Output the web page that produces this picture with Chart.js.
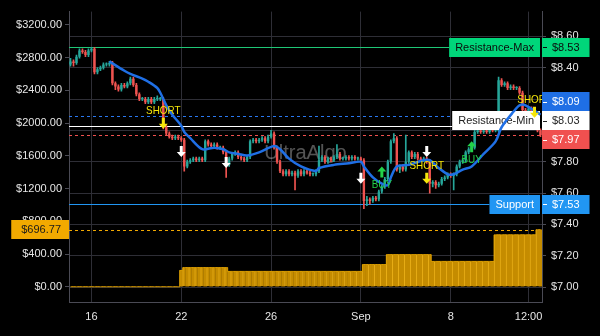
<!DOCTYPE html>
<html>
<head>
<meta charset="utf-8">
<title>UltraAlgo price chart</title>
<script src="https://cdn.jsdelivr.net/npm/chart.js@4.4.1/dist/chart.umd.min.js"></script>
<style>
  html, body { margin: 0; padding: 0; background: #000; }
  #wrap { width: 600px; height: 336px; }
</style>
</head>
<body>
<div id="wrap"><canvas id="priceChart" width="600" height="336"></canvas></div>
<script>
// ---- Data ----
const xTickIdx = [7, 37, 67, 97, 127, 153];
const xTickLabels = ['16', '22', '26', 'Sep', '8', '12:00'];
const leftTicks = [0, 400, 800, 1200, 1600, 2000, 2400, 2800, 3200];
const rightTicks = [7.0, 7.2, 7.4, 7.6, 7.8, 8.0, 8.2, 8.4, 8.6];

const opens = [
  8.42,8.44,8.43,8.47,8.51,8.50,8.48,8.51,8.52,8.37,
  8.39,8.40,8.42,8.42,8.43,8.30,8.28,8.26,8.29,8.28,
  8.30,8.33,8.29,8.23,8.20,8.20,8.18,8.20,8.18,8.20,
  8.20,8.20,8.02,7.98,7.96,7.95,7.96,7.95,7.94,7.77,
  7.80,7.81,7.82,7.81,7.82,7.81,7.93,7.91,7.90,7.91,
  7.89,7.89,7.86,7.78,7.82,7.85,7.86,7.83,7.82,7.81,
  7.83,7.93,7.94,7.93,7.94,7.95,7.93,7.96,7.98,7.89,
  7.80,7.74,7.72,7.74,7.72,7.73,7.71,7.74,7.72,7.74,
  7.73,7.72,7.72,7.74,7.81,7.83,7.80,7.82,7.81,7.83,
  7.85,7.82,7.82,7.83,7.82,7.83,7.82,7.82,7.81,7.55,
  7.56,7.55,7.57,7.56,7.61,7.64,7.69,7.80,7.93,7.95,
  7.75,7.77,7.75,7.80,7.86,7.83,7.85,7.82,7.81,7.82,
  7.80,7.66,7.67,7.65,7.66,7.69,7.70,7.72,7.71,7.72,
  7.77,7.80,7.81,7.86,7.88,7.89,7.99,8.00,7.99,8.00,
  7.99,8.01,8.00,8.00,8.32,8.29,8.30,8.27,8.28,8.27,
  8.27,8.24,8.13,8.11,8.14,8.10,8.08,8.00
];
const closes = [
  8.44,8.43,8.47,8.51,8.50,8.48,8.51,8.52,8.37,8.39,
  8.40,8.42,8.42,8.43,8.30,8.28,8.26,8.29,8.28,8.30,
  8.33,8.29,8.23,8.20,8.20,8.18,8.20,8.18,8.20,8.20,
  8.20,8.02,7.98,7.96,7.95,7.96,7.95,7.94,7.77,7.80,
  7.81,7.82,7.81,7.82,7.81,7.93,7.91,7.90,7.91,7.89,
  7.89,7.86,7.78,7.82,7.85,7.86,7.83,7.82,7.81,7.83,
  7.93,7.94,7.93,7.94,7.95,7.93,7.96,7.98,7.89,7.80,
  7.74,7.72,7.74,7.72,7.73,7.71,7.74,7.72,7.74,7.73,
  7.72,7.72,7.74,7.81,7.83,7.80,7.82,7.81,7.83,7.85,
  7.82,7.82,7.83,7.82,7.83,7.82,7.82,7.81,7.55,7.56,
  7.55,7.57,7.56,7.61,7.64,7.69,7.80,7.93,7.95,7.75,
  7.77,7.75,7.80,7.86,7.83,7.85,7.82,7.81,7.82,7.80,
  7.66,7.67,7.65,7.66,7.69,7.70,7.72,7.71,7.72,7.77,
  7.80,7.81,7.86,7.88,7.89,7.99,8.00,7.99,8.00,7.99,
  8.01,8.00,8.00,8.32,8.29,8.30,8.27,8.28,8.27,8.27,
  8.24,8.13,8.11,8.14,8.10,8.08,8.00,7.97
];
const highs = [
  8.46,8.45,8.48,8.52,8.52,8.51,8.52,8.53,8.53,8.40,
  8.41,8.43,8.43,8.44,8.44,8.31,8.29,8.30,8.30,8.31,
  8.34,8.34,8.30,8.24,8.21,8.21,8.21,8.21,8.21,8.22,
  8.21,8.21,8.03,7.99,7.97,7.97,7.97,7.96,7.95,7.81,
  7.82,7.83,7.83,7.83,7.83,7.94,7.94,7.92,7.92,7.92,
  7.90,7.90,7.87,7.83,7.86,7.87,7.87,7.84,7.83,7.84,
  7.94,7.95,7.95,7.95,7.96,7.96,7.97,8.00,7.99,7.90,
  7.81,7.75,7.75,7.75,7.74,7.74,7.75,7.75,7.75,7.75,
  7.74,7.73,7.75,7.90,7.84,7.84,7.83,7.83,7.84,7.91,
  7.86,7.83,7.84,7.84,7.84,7.84,7.83,7.83,7.82,7.58,
  7.57,7.58,7.58,7.62,7.65,7.70,7.81,7.94,7.98,7.96,
  7.78,7.78,7.97,7.87,7.87,7.86,7.86,7.83,7.83,7.83,
  7.81,7.68,7.68,7.67,7.70,7.71,7.73,7.73,7.73,7.78,
  7.81,7.82,7.87,7.89,7.90,8.01,8.01,8.01,8.01,8.01,
  8.02,8.02,8.01,8.34,8.33,8.31,8.31,8.29,8.29,8.28,
  8.28,8.25,8.14,8.15,8.15,8.11,8.09,8.01
];
const lows = [
  8.41,8.41,8.42,8.46,8.49,8.47,8.47,8.50,8.36,8.36,
  8.38,8.39,8.41,8.41,8.29,8.26,8.25,8.25,8.27,8.27,
  8.29,8.28,8.22,8.19,8.19,8.17,8.17,8.17,8.17,8.19,
  8.19,8.01,7.97,7.95,7.94,7.94,7.94,7.93,7.74,7.76,
  7.79,7.80,7.80,7.80,7.80,7.80,7.90,7.89,7.89,7.88,
  7.88,7.85,7.70,7.77,7.81,7.84,7.82,7.81,7.80,7.80,
  7.82,7.92,7.92,7.92,7.93,7.92,7.92,7.95,7.88,7.79,
  7.73,7.71,7.71,7.71,7.71,7.62,7.70,7.71,7.71,7.72,
  7.71,7.71,7.71,7.73,7.80,7.79,7.79,7.80,7.80,7.82,
  7.81,7.81,7.81,7.81,7.81,7.81,7.81,7.80,7.50,7.52,
  7.53,7.54,7.55,7.55,7.60,7.63,7.68,7.79,7.92,7.74,
  7.73,7.74,7.74,7.79,7.82,7.82,7.81,7.80,7.80,7.79,
  7.60,7.64,7.63,7.64,7.65,7.68,7.69,7.70,7.62,7.71,
  7.76,7.79,7.80,7.85,7.87,7.88,7.98,7.98,7.98,7.98,
  7.98,7.99,7.99,7.99,8.28,8.28,8.26,8.26,8.26,8.26,
  8.23,8.12,8.10,8.10,8.09,8.07,7.99,7.96
];

// moving average, read at a few candles
const maIdx = [13, 18, 20, 24, 26, 29, 30, 32, 34, 37, 38, 40, 44, 48, 51, 53, 56, 59, 63, 68,
  70, 73, 77, 82, 83, 88, 93, 97, 98, 101, 104, 106, 107, 109, 113, 118, 120, 123, 126, 128,
  131, 134, 138, 142, 144, 148, 150, 152, 157];
const maVals = [8.44, 8.38, 8.36, 8.33, 8.31, 8.27, 8.24, 8.16, 8.10, 8.03, 7.99, 7.95, 7.88, 7.89, 7.88, 7.86, 7.85, 7.84, 7.86, 7.90,
  7.88, 7.82, 7.77, 7.74, 7.76, 7.78, 7.79, 7.80, 7.77, 7.70, 7.66, 7.65, 7.70, 7.77, 7.78, 7.81, 7.81, 7.76, 7.72, 7.72,
  7.75, 7.77, 7.85, 7.93, 8.02, 8.12, 8.16, 8.16, 8.10];

// gold step series on the left axis
const flow = [
  0,0,0,0,0,0,0,0,0,0,
  0,0,0,0,0,0,0,0,0,0,
  0,0,0,0,0,0,0,0,0,0,
  0,0,0,0,0,0,0,200,235,235,
  235,235,235,235,235,235,235,235,235,235,
  235,235,235,188,188,188,188,188,188,188,
  188,188,188,188,188,188,188,188,188,188,
  188,188,188,188,188,188,188,188,188,188,
  188,188,188,188,188,188,188,188,188,188,
  188,188,188,188,188,188,188,188,272,272,
  272,272,272,272,272,272,393,393,393,393,
  393,393,393,393,393,393,393,393,393,393,
  393,310,310,310,310,310,310,310,310,310,
  310,310,310,310,310,310,310,310,310,310,
  310,310,634,634,634,634,634,634,634,634,
  634,634,634,634,634,634,696.77,696.77
];

const levelNames = ['Resistance-Max', 'Resistance-Min', 'Support'];
const levelValues = [8.53, 8.03, 7.53];
const maLast = 8.09;
const flowLast = 696.77;

const signalIdx = [31, 37, 52, 97, 104, 119, 119, 134, 155];
const signalPrice = [8.01, 7.83, 7.76, 7.66, 7.77, 7.83, 7.66, 7.93, 8.08];
const signalType = ['short', 'exit', 'exit', 'exit', 'buy', 'exit', 'short', 'buy', 'short'];

// ---- Style ----
const FONT = "'Liberation Sans', Arial, sans-serif";
const TEXT = '#e6e6e6';
const GRID = '#2e2e36';
const AXIS = '#4a4a54';
const UP = '#26a69a';
const DOWN = '#ef5350';
const MA_COLOR = '#1f6fe5';
const GOLD = '#f2a900';
const SHORT_COLOR = '#f5e60a';
const BUY_COLOR = '#22d14a';
const levelBg = ['#00d67a', '#ffffff', '#2196f3'];
const levelFg = ['#0b0b0b', '#222222', '#ffffff'];
const levelLine = ['#1fc777', '#ffffff', '#2196f3'];
const TAG_H = 19;

const labels = closes.map((c, i) => String(i));
const tickMap = {};
xTickIdx.forEach((v, k) => { tickMap[v] = xTickLabels[k]; });

function candleColor(i) {
  return closes[i] >= opens[i] ? UP : DOWN;
}

// Right axis tags, pushed apart so they do not overlap (upper tag gives way more)
function layoutTags(chart) {
  const yR = chart.scales.yR;
  const tags = [];
  levelValues.forEach((v, k) => {
    tags.push({ value: v, text: '$' + v.toFixed(2), bg: levelBg[k], fg: levelFg[k], level: k });
  });
  tags.push({ value: maLast, text: '$' + maLast.toFixed(2), bg: MA_COLOR, fg: '#ffffff' });
  const last = closes[closes.length - 1];
  tags.push({ value: last, text: '$' + last.toFixed(2), bg: '#f0504f', fg: '#ffffff' });
  tags.forEach(t => { t.y = yR.getPixelForValue(t.value); });
  tags.sort((a, b) => a.y - b.y);
  for (let pass = 0; pass < 60; pass++) {
    for (let k = 1; k < tags.length; k++) {
      const gap = tags[k].y - tags[k - 1].y;
      if (gap < TAG_H) {
        const d = TAG_H - gap;
        tags[k - 1].y -= d * 0.7;
        tags[k].y += d * 0.3;
      }
    }
  }
  return tags;
}

function hLine(c, x0, x1, y, color, dash) {
  c.save();
  c.strokeStyle = color;
  c.lineWidth = 1;
  c.setLineDash(dash || []);
  c.beginPath();
  c.moveTo(x0, Math.round(y) + 0.5);
  c.lineTo(x1, Math.round(y) + 0.5);
  c.stroke();
  c.restore();
}

function levelBoxWidth(c, k) {
  c.font = '11px ' + FONT;
  return c.measureText(levelNames[k]).width + 12;
}

function drawArrow(c, x, tipY, dir, color) {
  // dir 1 points down, -1 points up
  const headH = 5, headW = 9, shaftW = 3, shaftH = 6;
  c.fillStyle = color;
  c.beginPath();
  c.moveTo(x, tipY);
  c.lineTo(x - headW / 2, tipY - dir * headH);
  c.lineTo(x - shaftW / 2, tipY - dir * headH);
  c.lineTo(x - shaftW / 2, tipY - dir * (headH + shaftH));
  c.lineTo(x + shaftW / 2, tipY - dir * (headH + shaftH));
  c.lineTo(x + shaftW / 2, tipY - dir * headH);
  c.lineTo(x + headW / 2, tipY - dir * headH);
  c.closePath();
  c.fill();
}

// narrow signal text
function signalText(c, text, x, y, color) {
  c.save();
  c.translate(x, y);
  c.scale(0.86, 1);
  c.fillStyle = color;
  c.font = '11.5px ' + FONT;
  c.textAlign = 'center';
  c.textBaseline = 'middle';
  c.fillText(text, 0, 0);
  c.restore();
}

// Lines and watermark under the series
const underlayPlugin = {
  id: 'underlay',
  beforeDatasetsDraw(chart) {
    const c = chart.ctx;
    const area = chart.chartArea;
    const yR = chart.scales.yR;
    const yL = chart.scales.yL;

    c.save();
    c.font = '20px ' + FONT;
    c.fillStyle = 'rgba(255,255,255,0.33)';
    c.textAlign = 'center';
    c.textBaseline = 'middle';
    c.fillText('UltraAlgo', (area.left + area.right) / 2, (area.top + area.bottom) / 2 - 3);
    c.restore();

    levelValues.forEach((v, k) => {
      const x1 = area.right - 2 - levelBoxWidth(c, k);
      hLine(c, area.left, x1, yR.getPixelForValue(v), levelLine[k]);
    });
    hLine(c, area.left, area.right, yR.getPixelForValue(maLast), '#2a78f0', [3, 3]);
    hLine(c, area.left, area.right, yR.getPixelForValue(closes[closes.length - 1]), '#f0504f', [3, 3]);
    hLine(c, area.left, area.right, yL.getPixelForValue(flowLast), GOLD, [3, 3]);
  },
  // level name boxes sit above the candles but under the average line
  afterDatasetDraw(chart, args) {
    if (args.index !== 1) return;
    const c = chart.ctx;
    const area = chart.chartArea;
    const tags = layoutTags(chart);
    tags.forEach(t => {
      if (t.level === undefined) return;
      const w = levelBoxWidth(c, t.level);
      const x0 = area.right - 2 - w;
      c.save();
      c.fillStyle = t.bg;
      c.fillRect(x0, Math.round(t.y - TAG_H / 2), w, TAG_H);
      c.fillStyle = t.fg;
      c.font = '11px ' + FONT;
      c.textAlign = 'center';
      c.textBaseline = 'middle';
      c.fillText(levelNames[t.level], x0 + w / 2, t.y + 0.5);
      c.restore();
    });
  }
};

// Buy / short / exit markers
const signalPlugin = {
  id: 'signals',
  afterDatasetsDraw(chart) {
    const c = chart.ctx;
    const x = chart.scales.x;
    const yR = chart.scales.yR;
    c.save();
    signalIdx.forEach((idx, k) => {
      const px = x.getPixelForValue(idx);
      const tip = yR.getPixelForValue(signalPrice[k]);
      const type = signalType[k];
      if (type === 'exit') {
        drawArrow(c, px, tip, 1, '#ffffff');
      } else if (type === 'short') {
        drawArrow(c, px, tip, 1, SHORT_COLOR);
        signalText(c, 'SHORT', px, tip - 18, SHORT_COLOR);
      } else {
        drawArrow(c, px, tip, -1, BUY_COLOR);
        signalText(c, 'BUY', px, tip + 18, BUY_COLOR);
      }
    });
    c.restore();
  }
};

// Price tags on both axes
const tagPlugin = {
  id: 'tags',
  afterDraw(chart) {
    const c = chart.ctx;
    const area = chart.chartArea;
    const tags = layoutTags(chart);
    c.save();
    c.font = '11px ' + FONT;
    c.textBaseline = 'middle';
    tags.forEach(t => {
      const x0 = area.right;
      const w = c.measureText(t.text).width + 20;
      const top = Math.round(t.y - TAG_H / 2);
      c.fillStyle = t.bg;
      c.fillRect(x0, top, w, TAG_H);
      c.fillStyle = t.fg;
      c.fillRect(x0 + 1, Math.round(t.y), 4, 1);
      c.textAlign = 'left';
      c.fillText(t.text, x0 + 10, t.y + 0.5);
    });

    // left tag for the gold series
    const yL = chart.scales.yL;
    const gy = yL.getPixelForValue(flowLast);
    const text = '$' + flowLast.toFixed(2);
    const w = c.measureText(text).width + 18;
    c.fillStyle = GOLD;
    c.fillRect(area.left - w, Math.round(gy - TAG_H / 2), w, TAG_H);
    c.fillStyle = '#1a1a1a';
    c.textAlign = 'right';
    c.fillText(text, area.left - 8, gy + 0.5);
    c.restore();
  }
};

const ctx = document.getElementById('priceChart').getContext('2d');

new Chart(ctx, {
  type: 'bar',
  data: {
    labels: labels,
    datasets: [
      {
        type: 'line',
        label: 'Average',
        data: maIdx.map((v, k) => ({ x: String(v), y: maVals[k] })),
        yAxisID: 'yR',
        borderColor: MA_COLOR,
        borderWidth: 2.5,
        pointRadius: 0,
        tension: 0.3,
        order: 0
      },
      {
        label: 'Body',
        data: closes.map((cl, i) => [opens[i], cl]),
        yAxisID: 'yR',
        backgroundColor: c => candleColor(c.dataIndex),
        barPercentage: 0.8,
        categoryPercentage: 1,
        minBarLength: 1,
        grouped: false,
        order: 1
      },
      {
        label: 'Wick',
        data: lows.map((lo, i) => [lo, highs[i]]),
        yAxisID: 'yR',
        backgroundColor: c => candleColor(c.dataIndex),
        barThickness: 1,
        grouped: false,
        order: 2
      },
      {
        type: 'line',
        label: 'Flow edge',
        data: flow,
        yAxisID: 'yL',
        stepped: 'middle',
        borderColor: '#d99c00',
        borderWidth: 1,
        pointRadius: 0,
        order: 3
      },
      {
        label: 'Flow',
        data: flow,
        yAxisID: 'yL',
        backgroundColor: '#c58c00',
        borderColor: '#e8ad16',
        borderWidth: c => (c.dataIndex % 2 === 0 ? { left: 1, right: 0, top: 0, bottom: 0 } : 0),
        barPercentage: 1,
        categoryPercentage: 1,
        grouped: false,
        order: 4
      }
    ]
  },
  options: {
    responsive: false,
    animation: false,
    devicePixelRatio: 1,
    layout: { padding: { top: 8, left: 0, right: 0, bottom: 0 } },
    plugins: {
      legend: { display: false },
      tooltip: { enabled: false }
    },
    scales: {
      x: {
        type: 'category',
        offset: true,
        afterFit: s => { s.height = 34; },
        grid: {
          offset: false,
          drawTicks: false,
          color: c => (tickMap[c.index] !== undefined ? GRID : 'rgba(0,0,0,0)')
        },
        border: { color: AXIS },
        ticks: {
          autoSkip: false,
          maxRotation: 0,
          padding: 8,
          color: TEXT,
          font: { family: FONT, size: 11 },
          callback: (v, i) => tickMap[i] || ''
        }
      },
      yR: {
        position: 'right',
        min: 6.9055,
        max: 8.7575,
        afterBuildTicks: s => { s.ticks = rightTicks.map(v => ({ value: v })); },
        afterFit: s => { s.width = 58; },
        grid: { color: GRID, tickLength: 4, tickColor: AXIS },
        border: { color: AXIS },
        ticks: {
          padding: 5,
          color: TEXT,
          font: { family: FONT, size: 11 },
          callback: v => '$' + Number(v).toFixed(2)
        }
      },
      yL: {
        position: 'left',
        min: -185.7,
        max: 3360.4,
        afterBuildTicks: s => { s.ticks = leftTicks.map(v => ({ value: v })); },
        afterFit: s => { s.width = 69; },
        grid: { drawOnChartArea: false, tickLength: 4, color: AXIS },
        border: { color: AXIS },
        ticks: {
          padding: 3,
          color: TEXT,
          font: { family: FONT, size: 11 },
          callback: v => '$' + Number(v).toFixed(2)
        }
      }
    }
  },
  plugins: [underlayPlugin, signalPlugin, tagPlugin]
});
</script>
</body>
</html>
